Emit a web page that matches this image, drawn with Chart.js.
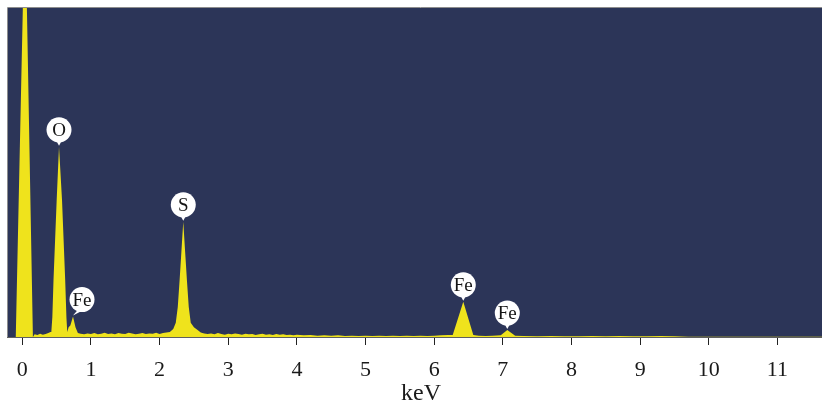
<!DOCTYPE html>
<html>
<head>
<meta charset="utf-8">
<script src="https://cdn.jsdelivr.net/npm/chart.js@4.4.1/dist/chart.umd.min.js"></script>
<style>
  html, body { margin: 0; padding: 0; background: #ffffff; overflow: hidden; }
  #wrap { width: 822px; height: 406px; overflow: hidden; }
  #eds { display: block; }
</style>
</head>
<body>
<div id="wrap"><canvas id="eds" width="834" height="406"></canvas></div>
<script>
// EDS spectrum: energy (keV) against counts
const energies = [
  -0.21, -0.095, 0.04, 0.155, 0.18, 0.22, 0.26, 0.30, 0.34, 0.38, 0.41,
  0.423, 0.438, 0.455, 0.501, 0.535, 0.579, 0.625, 0.643, 0.655,
  0.675, 0.70, 0.739, 0.775, 0.81,
  0.85, 0.90, 0.95, 1.00, 1.05, 1.10, 1.15, 1.20, 1.25, 1.30, 1.35, 1.40,
  1.45, 1.50, 1.55, 1.60, 1.65, 1.70, 1.75, 1.80, 1.85, 1.90, 1.95, 2.00,
  2.05, 2.10, 2.15, 2.199, 2.236, 2.265, 2.292, 2.313, 2.345, 2.377, 2.398,
  2.425, 2.454, 2.50, 2.549, 2.60, 2.65,
  2.70, 2.75, 2.80, 2.85, 2.90, 2.95, 3.00, 3.05, 3.10, 3.15, 3.20, 3.25,
  3.30, 3.35, 3.40, 3.45, 3.50, 3.55, 3.60, 3.65, 3.70, 3.75, 3.80, 3.85,
  3.90, 3.95, 4.00, 4.10, 4.20, 4.30, 4.40, 4.50, 4.60, 4.70, 4.80, 4.90,
  5.00, 5.10, 5.20, 5.30, 5.40, 5.50, 5.60, 5.70, 5.80, 5.90, 6.00, 6.10,
  6.20, 6.27, 6.424, 6.57, 6.65, 6.75, 6.85, 6.97, 7.065, 7.18,
  7.30, 7.50, 7.70, 7.90, 8.10, 8.30, 8.50, 8.70, 8.90, 9.10, 9.30, 9.50,
  9.70, 10.00, 10.50, 11.00, 11.90
];
const counts = [
  0, 0, 1310, 0, 8, 6, 10, 7, 9, 12, 15,
  15, 61, 173, 416, 578, 416, 173, 60, 15,
  30, 35, 62, 30, 12,
  10, 8, 11, 9, 12, 8, 10, 13, 9, 11, 8, 12,
  10, 9, 13, 11, 8, 10, 12, 9, 11, 10, 13, 9,
  12, 14, 15, 24, 43, 91, 173, 243, 350, 243, 173,
  91, 43, 30, 22, 14, 11,
  9, 11, 8, 12, 9, 7, 10, 8, 11, 9, 7, 10,
  8, 9, 6, 8, 10, 7, 8, 6, 9, 7, 8, 6,
  7, 5, 7, 5, 6, 4, 5, 4, 5, 3, 4, 3,
  4, 3, 4, 3, 4, 3, 4, 3, 4, 3, 4, 5,
  6, 6, 107, 6, 4, 3, 4, 5, 21, 4,
  3, 2, 3, 2, 2, 3, 2, 3, 2, 2, 3, 2,
  1, 1, 1, 1, 1
];

// Element markers placed on the peaks
const peakElements = ['O', 'Fe', 'S', 'Fe', 'Fe'];
const peakEnergies = [0.535, 0.739, 2.345, 6.424, 7.065];

// Axis ticks
const tickValues = [0, 1, 2, 3, 4, 5, 6, 7, 8, 9, 10, 11];
const axisTitle = 'keV';

const NAVY = '#2c3558';
const YELLOW = '#efe31c';
const SERIF = '"Liberation Serif", "Times New Roman", serif';

// Paint the plot area and its thin top/left frame
const plotBackground = {
  id: 'plotBackground',
  beforeDatasetsDraw(chart) {
    const { ctx, chartArea: a } = chart;
    ctx.save();
    ctx.fillStyle = NAVY;
    ctx.fillRect(a.left, a.top, a.right - a.left, a.bottom - a.top);
    ctx.strokeStyle = '#8d8d8d';
    ctx.lineWidth = 1;
    ctx.beginPath();
    ctx.moveTo(a.left - 0.5, a.bottom);
    ctx.lineTo(a.left - 0.5, a.top - 0.5);
    ctx.lineTo(a.right, a.top - 0.5);
    ctx.stroke();
    ctx.restore();
  }
};

// Pin-shaped element labels sitting on each peak tip
const labelShift = { 1: 9 };
const peakLabels = {
  id: 'peakLabels',
  afterDatasetsDraw(chart) {
    const { ctx, scales: { x, y } } = chart;
    const r = 12.5;
    ctx.save();
    peakEnergies.forEach((e, i) => {
      const idx = energies.indexOf(e);
      const tipX = x.getPixelForValue(e);
      const tipY = y.getPixelForValue(counts[idx]);
      const cx = tipX + (labelShift[i] || 0);
      const cy = tipY - 17;
      ctx.fillStyle = '#ffffff';
      ctx.beginPath();
      ctx.arc(cx, cy, r, 0, Math.PI * 2);
      ctx.fill();
      ctx.beginPath();
      ctx.moveTo(cx - 3.5, cy + r - 3);
      ctx.lineTo(cx + 3.5, cy + r - 3);
      ctx.lineTo(tipX, tipY - 1);
      ctx.closePath();
      ctx.fill();
      ctx.fillStyle = '#151515';
      ctx.font = '19px ' + SERIF;
      ctx.textAlign = 'center';
      ctx.textBaseline = 'middle';
      ctx.fillText(peakElements[i], cx, cy + 1);
    });
    ctx.restore();
  }
};

new Chart(document.getElementById('eds'), {
  type: 'line',
  data: {
    datasets: [{
      data: energies.map((e, i) => ({ x: e, y: counts[i] })),
      borderWidth: 0,
      borderColor: YELLOW,
      backgroundColor: YELLOW,
      fill: 'origin',
      pointRadius: 0,
      tension: 0
    }]
  },
  options: {
    responsive: false,
    animation: false,
    events: [],
    layout: { padding: { left: 8, top: 8, right: 0, bottom: 0 } },
    plugins: { legend: { display: false }, tooltip: { enabled: false } },
    scales: {
      x: {
        type: 'linear',
        min: -0.208,
        max: 11.824,
        afterBuildTicks(scale) { scale.ticks = tickValues.map(v => ({ value: v })); },
        afterFit(scale) { scale.height = 69; },
        border: { display: true, color: '#5f5f5f', width: 2 },
        grid: { drawOnChartArea: false, drawTicks: true, tickLength: 8, tickColor: '#222222', lineWidth: 1 },
        ticks: {
          color: '#1a1a1a',
          padding: 12,
          maxRotation: 0,
          autoSkip: false,
          font: { family: SERIF, size: 22 },
          callback: v => String(v)
        },
        title: {
          display: true,
          text: axisTitle,
          color: '#1a1a1a',
          font: { family: SERIF, size: 24, lineHeight: 1 },
          padding: { top: 0, bottom: 0 }
        }
      },
      y: { display: false, min: 0, max: 1000 }
    }
  },
  plugins: [plotBackground, peakLabels]
});
</script>
</body>
</html>
